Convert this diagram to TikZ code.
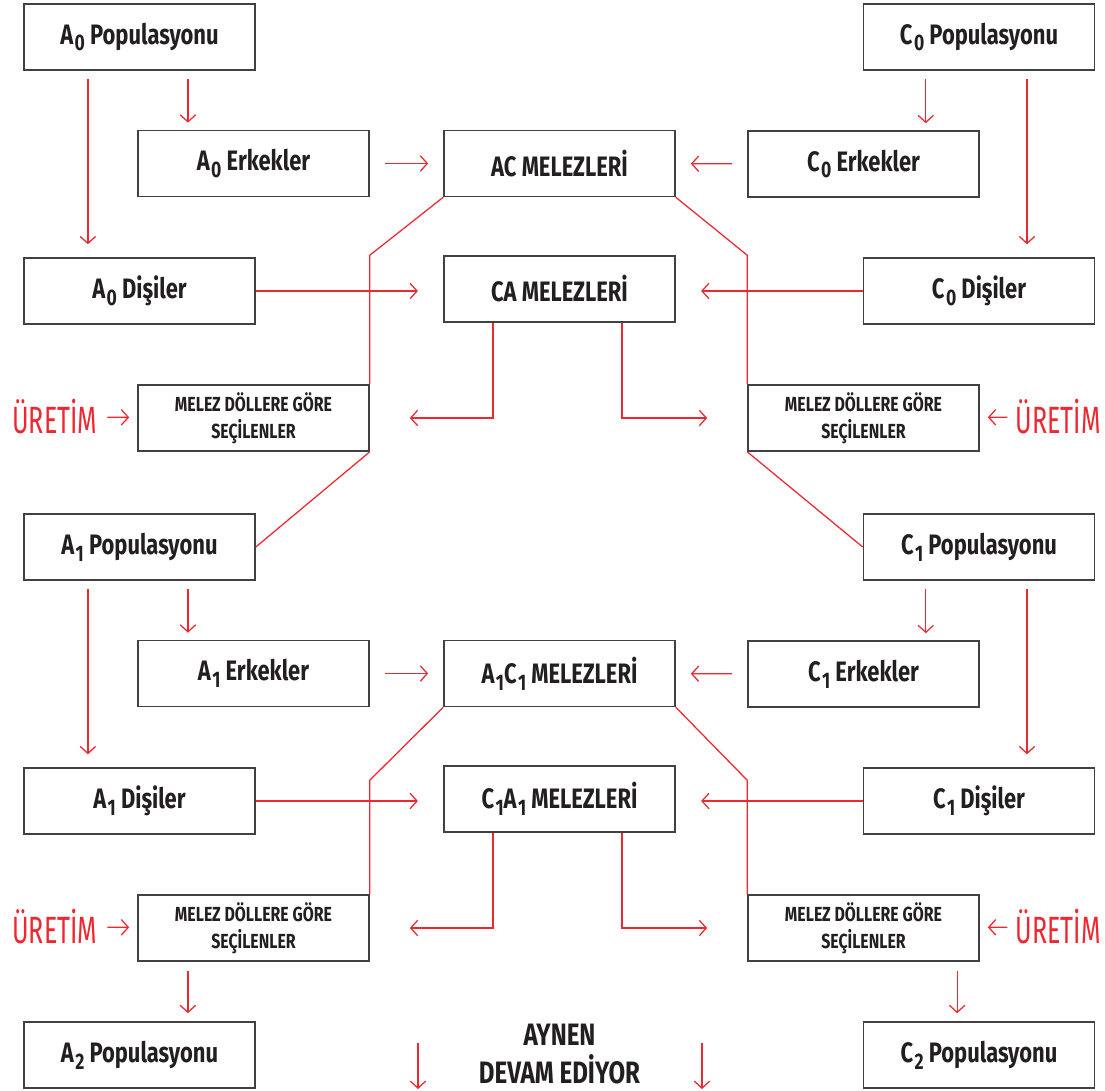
\documentclass[tikz,border=0pt]{standalone}
\usepackage{fontspec}
\usepackage{graphicx}
\setmainfont{Fira Sans}[FakeStretch=0.78]
\newfontfamily\darfont{Fira Sans}[FakeStretch=0.66]
\usetikzlibrary{arrows.meta}
\definecolor{kirmizi}{RGB}{237,40,48}
\definecolor{cerceve}{RGB}{65,64,66}
\definecolor{yazi}{RGB}{35,31,32}
% alt indis (A0, C1 ...)
\newcommand{\ix}[1]{\kern.05em\raisebox{-.45ex}{\scalebox{.8}{#1}}}
\begin{document}
\begin{tikzpicture}[x=0.025cm,y=-0.025cm,
    kutu/.style={draw=cerceve,line width=1.1pt,minimum width=5.775cm,minimum height=1.65cm,
      inner sep=0pt,text=yazi,font=\fontsize{20}{22}\selectfont\bfseries},
    kucuk/.style={kutu,align=center,font=\fontsize{14.5}{19}\selectfont\bfseries},
    uretim/.style={text=kirmizi,inner sep=0pt,font=\darfont\fontsize{27}{30}\selectfont},
    hat/.style={draw=kirmizi,line width=0.9pt},
    ok/.style={hat,-{Straight Barb[length=5pt,width=11pt]}}]
\useasboundingbox (0,0) rectangle (1105,1091);
% iki kusak ayni duzende: 510 px asagi kayiyor
\foreach \k/\dy/\kc/\ac/\ca in {0/0/0cm/AC/CA,1/510/-0.375cm/{A\ix{1}C\ix{1}}/{C\ix{1}A\ix{1}}}{
  \node[kutu] (pA\k) at (139.5,37+\dy) {A\ix{\k} Populasyonu};
  \node[kutu] (pC\k) at (979,37+\dy) {C\ix{\k} Populasyonu};
  \node[kutu] (eA\k) at (253.5,163.5+\dy) {A\ix{\k} Erkekler};
  \node[kutu] (eC\k) at (863.5,164+\dy) {C\ix{\k} Erkekler};
  \node[kutu] (mAC\k) at (559.5,163.5+\dy) {\ac{} MELEZLERİ};
  \node[kutu] (dA\k) at (139.5,291+\dy) {A\ix{\k} Dişiler};
  \node[kutu] (dC\k) at (979,291+\dy) {C\ix{\k} Dişiler};
  \node[kutu] (mCA\k) at (559.5,289+\dy) {\ca{} MELEZLERİ};
  \node[kucuk] (sA\k) at (253.5,418+\dy) {MELEZ DÖLLERE GÖRE\\SEÇİLENLER};
  \node[kucuk] (sC\k) at (863.5,418+\dy) {MELEZ DÖLLERE GÖRE\\SEÇİLENLER};
  \node[uretim,anchor=west] (uA\k) at (12,417+\dy) {ÜRETİM};
  \node[uretim,anchor=east] (uC\k) at (1101,417+\dy) {ÜRETİM};
  % populasyondan erkek ve disilere
  \draw[ok,shorten <=5.7pt,shorten >=9.2pt] ([xshift=-1.29cm]pA\k.south) -- ([xshift=-1.29cm]pA\k.south |- dA\k.north);
  \draw[ok,shorten <=5.7pt,shorten >=5pt] ([xshift=1.21cm]pA\k.south) -- ([xshift=1.21cm]pA\k.south |- eA\k.north);
  \draw[ok,shorten <=5.7pt,shorten >=9.2pt] ([xshift=1.2cm]pC\k.south) -- ([xshift=1.2cm]pC\k.south |- dC\k.north);
  \draw[ok,shorten <=5.7pt,shorten >=5pt] ([xshift=-1.33cm]pC\k.south) -- ([xshift=-1.33cm]pC\k.south |- eC\k.north);
  % caprazlama
  \draw[ok,shorten <=10.7pt,shorten >=10.7pt] (eA\k) -- (mAC\k);
  \draw[ok,shorten <=10.7pt,shorten >=10.7pt] (eC\k) -- (mAC\k);
  \draw[ok,shorten >=18pt] (dA\k.east) -- (dA\k.east -| mCA\k.west);
  \draw[ok,shorten >=18pt] (dC\k.west) -- (dC\k.west -| mCA\k.east);
  \draw[ok] ([xshift=-1.66cm]mCA\k.south) |- ([xshift=1cm]sA\k.east);
  \draw[ok] ([xshift=1.56cm]mCA\k.south) |- ([xshift=-1cm]sC\k.west);
  \draw[hat] (mAC\k.south west) -- ([yshift=\kc]sA\k.north east |- mCA\k.north) -- (sA\k.north east);
  \draw[hat] (mAC\k.south east) -- ([yshift=\kc]sC\k.north west |- mCA\k.north) -- (sC\k.north west);
  % uretim oklari
  \draw[ok,shorten <=7pt,shorten >=5.7pt] (uA\k) -- (sA\k);
  \draw[ok,shorten <=5.7pt,shorten >=5.7pt] (uC\k) -- (sC\k);
}
% secilenlerden bir sonraki populasyona
\draw[hat] (sA0.south east) -- (pA1.east);
\draw[hat] (sC0.south west) -- (pC1.west);
\node[kutu] (pA2) at (139.5,1055) {A\ix{2} Populasyonu};
\node[kutu] (pC2) at (979,1055) {C\ix{2} Populasyonu};
\draw[ok,shorten <=6.4pt,shorten >=5.7pt] ([xshift=-1.64cm]sA1.south) -- ([xshift=-1.64cm]sA1.south |- pA2.north);
\draw[ok,shorten <=6.4pt,shorten >=5.7pt] ([xshift=2.34cm]sC1.south) -- ([xshift=2.34cm]sC1.south |- pC2.north);
\node[text=yazi,align=center,inner sep=0pt,font=\fontsize{22}{26.5}\selectfont\bfseries] (devam) at (559.5,1054) {AYNEN\\DEVAM EDİYOR};
\coordinate (s1) at (418,1043);
\coordinate (s2) at (702,1043);
\draw[ok] (s1) -- ++(0,46);
\draw[ok] (s2) -- ++(0,46);
\end{tikzpicture}
\end{document}
